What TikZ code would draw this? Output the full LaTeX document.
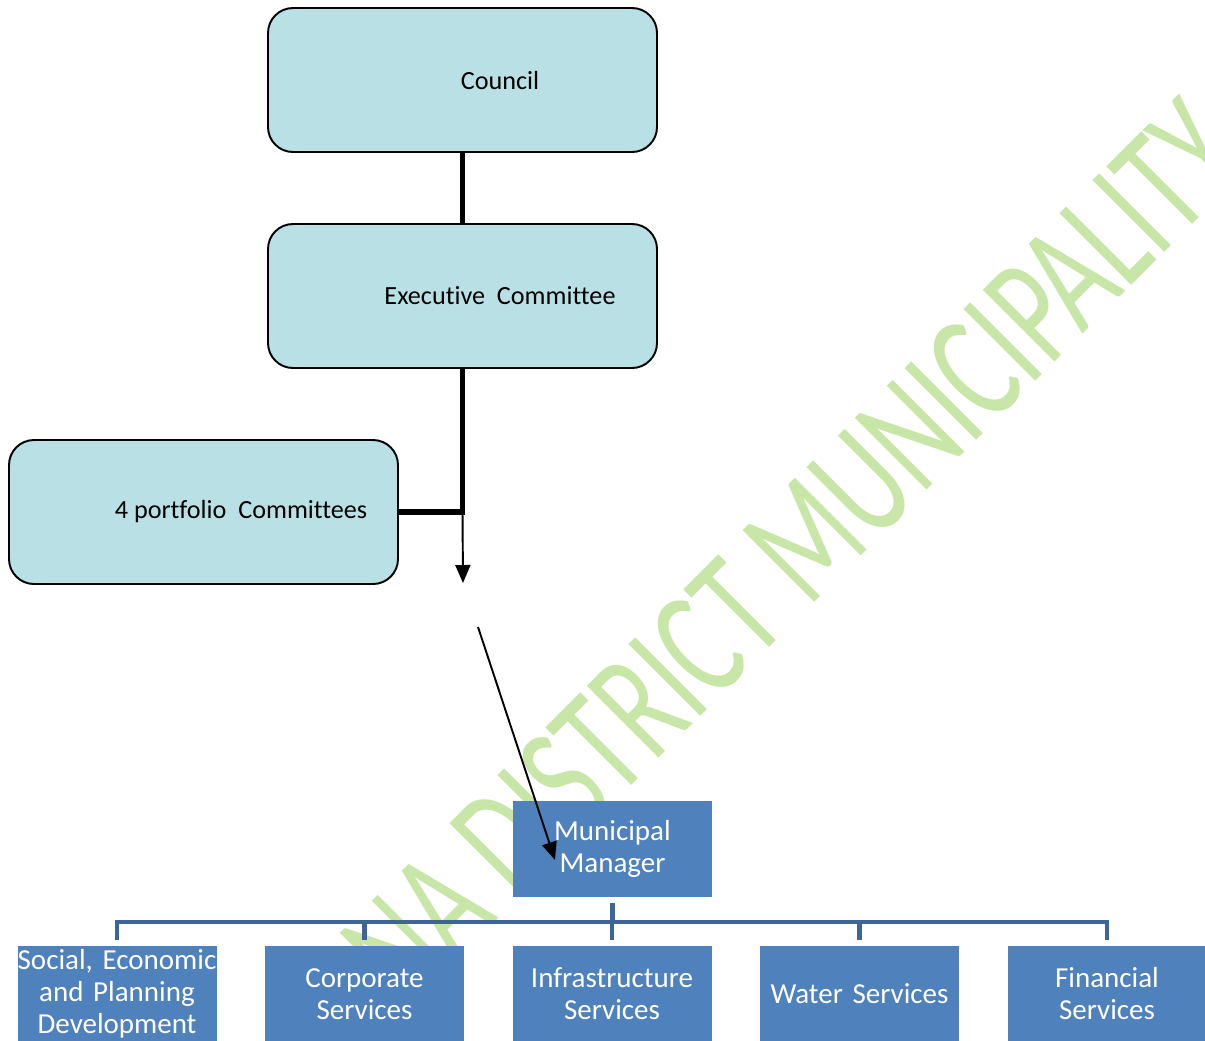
\documentclass[tikz,border=0pt]{standalone}
\usepackage{fontspec}
\setmainfont{Carlito}[Ligatures=NoCommon]
\usepackage{xcolor}
\usepackage{tikz}
\usetikzlibrary{arrows.meta}

\definecolor{boxteal}{RGB}{185,224,228}
\definecolor{deptblue}{RGB}{79,129,189}
\definecolor{treeblue}{RGB}{62,101,150}
\definecolor{markgreen}{RGB}{200,230,167}

\begin{document}
\begin{tikzpicture}[
    govbox/.style={draw=black, line width=1.1pt, fill=boxteal, rounded corners=0.5cm,
        minimum width=7.78cm, minimum height=2.88cm, font=\fontsize{14.9}{18}\selectfont},
    deptbox/.style={fill=deptblue, text=white, minimum height=1.92cm, text width=3.98cm,
        align=center, inner sep=0pt, font=\fontsize{16.5}{18.2}\selectfont},
    heavy/.style={line width=3.4pt},
    tree/.style={draw=treeblue, line width=2.3pt, shorten <=0.12cm, shorten >=0.12cm},
    ptr/.style={-{Triangle[length=0.36cm,width=0.3cm]}, line width=1.1pt}
]
    \useasboundingbox (0,0) rectangle (24.1,-20.8);

    % Watermark
    \node[text=markgreen, rotate=45, anchor=base, inner sep=0pt, font=\fontsize{90}{90}\selectfont]
        (mark) at (16.14,-12.2) {\scalebox{0.677}[1]{ANA DISTRICT MUNICIPALITY}};

    % Political structure
    \node[govbox] (council) at (9.25,-1.6) {\hspace*{1.5cm}Council};
    \node[govbox] (exco) at (9.25,-5.92) {\hspace*{1.5cm}Executive\ \ Committee};
    \node[govbox] (port) at (4.07,-10.24) {\hspace*{1.5cm}4 portfolio\ \ Committees};

    \draw[heavy] (council.south) -- (exco.north);
    \draw[heavy] (exco.south) |- (port.east);

    % Administration
    \node[deptbox] (mm) at (12.25,-16.98) {Municipal\\Manager};

    \foreach \name/\label [count=\i from 0] in {dsoc/{Social, Economic\\and Planning\\Development},
            dcorp/{Corporate\\Services}, dinfra/{Infrastructure\\Services},
            dwater/{Water Services}, dfin/{Financial\\Services}}
    {
        \node[deptbox] (\name) at (2.34+4.95*\i,-19.88) {\label};
        \draw[tree] (mm.south) -- ++(0,-0.5) -| (\name.north);
    }

    % Arrows down to the manager
    \coordinate (split) at (exco.south |- port.east);
    \coordinate (gap) at (9.26,-11.66);
    \coordinate (resume) at (9.56,-12.54);
    \coordinate (tip) at (11.1,-17.2);
    \draw[ptr] (split) -- (gap);
    \draw[ptr] (resume) -- (tip);
\end{tikzpicture}
\end{document}
